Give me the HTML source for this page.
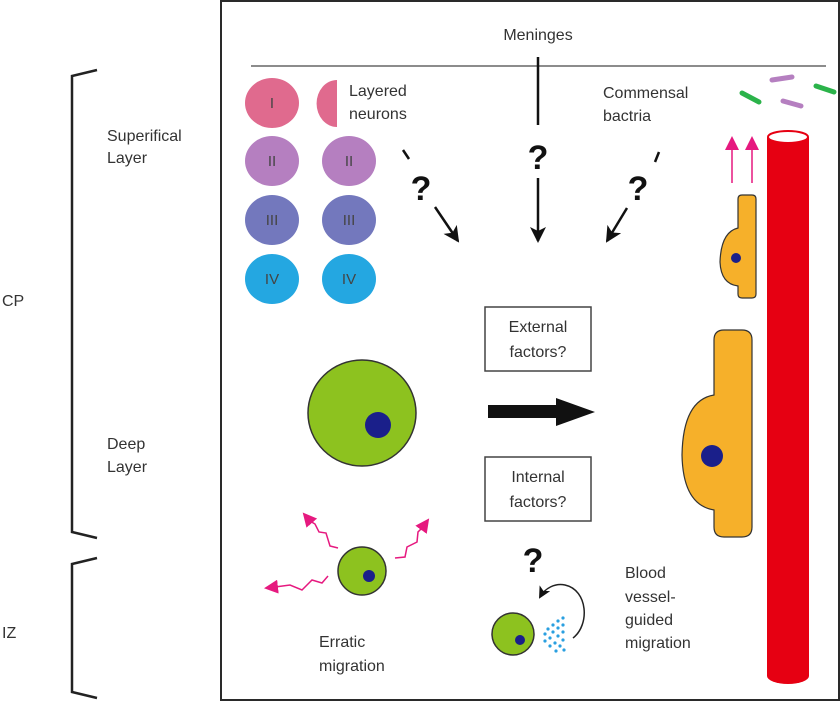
<!DOCTYPE html>
<html><head><meta charset="utf-8"><style>
body{margin:0;background:#fff;}
svg{display:block;font-family:"Liberation Sans",Arial,sans-serif;}
</style></head><body>
<svg width="840" height="703" viewBox="0 0 840 703" xmlns="http://www.w3.org/2000/svg">
<defs>
<marker id="ah" markerWidth="16" markerHeight="16" refX="14" refY="8" orient="auto" markerUnits="userSpaceOnUse"><path d="M0,0 L16,8 L0,16 L4,8 Z" fill="#111"/></marker>
<marker id="ah2" markerWidth="12" markerHeight="12" refX="10" refY="6" orient="auto" markerUnits="userSpaceOnUse"><path d="M0,0 L12,6 L0,12 L3,6 Z" fill="#111"/></marker>
<marker id="am" markerWidth="14" markerHeight="14" refX="12" refY="7" orient="auto" markerUnits="userSpaceOnUse"><path d="M0,0 L14,7 L0,14 Z" fill="#e6197f"/></marker>
</defs>
<rect x="0" y="0" width="840" height="703" fill="#fff"/>
<rect x="221" y="1" width="618" height="699" fill="none" stroke="#2a2a2a" stroke-width="2"/>
<g fill="none" stroke="#222" stroke-width="2.5">
<polyline points="97,70 72,76 72,532 97,538"/>
<polyline points="97,558 72,564 72,692 97,698"/>
</g>
<rect x="485" y="307" width="106" height="64" fill="#fff" stroke="#444" stroke-width="1.5"/>
<rect x="485" y="457" width="106" height="64" fill="#fff" stroke="#444" stroke-width="1.5"/>
<g fill="#333" font-size="16">
<text x="2" y="306">CP</text>
<text x="2" y="638">IZ</text>
<text x="107" y="141">Superifical</text>
<text x="107" y="163">Layer</text>
<text x="107" y="449">Deep</text>
<text x="107" y="472">Layer</text>
<text x="538" y="40" text-anchor="middle">Meninges</text>
<text x="349" y="96">Layered</text>
<text x="349" y="119">neurons</text>
<text x="603" y="98">Commensal</text>
<text x="603" y="121">bactria</text>
<text x="538" y="332" text-anchor="middle">External</text>
<text x="538" y="357" text-anchor="middle">factors?</text>
<text x="538" y="482" text-anchor="middle">Internal</text>
<text x="538" y="507" text-anchor="middle">factors?</text>
<text x="319" y="647">Erratic</text>
<text x="319" y="671">migration</text>
<text x="625" y="578">Blood</text>
<text x="625" y="602">vessel-</text>
<text x="625" y="625">guided</text>
<text x="625" y="648">migration</text>
</g>
<line x1="251" y1="66" x2="826" y2="66" stroke="#666" stroke-width="1.5"/>
<g font-size="15" fill="#444" text-anchor="middle">
<ellipse cx="272" cy="103" rx="27" ry="25" fill="#e06a8e"/>
<path d="M337,80 A20,23 0 0 0 337,127 Z" fill="#e06a8e"/>
<ellipse cx="272" cy="161" rx="27" ry="25" fill="#b57fc0"/>
<ellipse cx="349" cy="161" rx="27" ry="25" fill="#b57fc0"/>
<ellipse cx="272" cy="220" rx="27" ry="25" fill="#7378bd"/>
<ellipse cx="349" cy="220" rx="27" ry="25" fill="#7378bd"/>
<ellipse cx="272" cy="279" rx="27" ry="25" fill="#24a7e1"/>
<ellipse cx="349" cy="279" rx="27" ry="25" fill="#24a7e1"/>
<text x="272" y="108">I</text>
<text x="272" y="166">II</text><text x="349" y="166">II</text>
<text x="272" y="225">III</text><text x="349" y="225">III</text>
<text x="272" y="284">IV</text><text x="349" y="284">IV</text>
</g>
<g stroke="#111" stroke-width="2.5" fill="none">
<line x1="538" y1="57" x2="538" y2="125"/>
<line x1="538" y1="178" x2="538" y2="241" marker-end="url(#ah)"/>
<line x1="435" y1="207" x2="458" y2="241" marker-end="url(#ah)"/>
<line x1="403" y1="150" x2="409" y2="159"/>
<line x1="627" y1="208" x2="607" y2="241" marker-end="url(#ah)"/>
<line x1="659" y1="152" x2="655" y2="162"/>
</g>
<g font-size="34" font-weight="bold" fill="#111" text-anchor="middle">
<text x="538" y="169">?</text>
<text x="421" y="200">?</text>
<text x="638" y="200">?</text>
<text x="533" y="572">?</text>
</g>
<g stroke-width="5" stroke-linecap="round">
<line x1="772" y1="80" x2="792" y2="77" stroke="#b57fc0"/>
<line x1="783" y1="101" x2="801" y2="106" stroke="#b57fc0"/>
<line x1="742" y1="93" x2="759" y2="102" stroke="#2bb34a"/>
<line x1="816" y1="86" x2="834" y2="92" stroke="#2bb34a"/>
</g>
<g stroke="#e6197f" stroke-width="1.5">
<line x1="732" y1="183" x2="732" y2="138" marker-end="url(#am)"/>
<line x1="752" y1="183" x2="752" y2="138" marker-end="url(#am)"/>
</g>
<path d="M767,137 L767,676 A21,8 0 0 0 809,676 L809,137 Z" fill="#e60012"/>
<ellipse cx="788" cy="137" rx="20" ry="6" fill="#fff" stroke="#e60012" stroke-width="2"/>
<path d="M742,195 L752,195 Q756,195 756,199 L756,294 Q756,298 752,298 L742,298 Q738,298 738,294 L738,286 Q721,284 720,262 Q721,232 738,228 L738,199 Q738,195 742,195 Z" fill="#f6b02a" stroke="#333" stroke-width="1.2"/>
<circle cx="736" cy="258" r="5" fill="#1a1f8a"/>
<path d="M488,405 L556,405 L556,398 L595,412 L556,426 L556,418 L488,418 Z" fill="#111"/>
<ellipse cx="362" cy="413" rx="54" ry="53" fill="#8dc21f" stroke="#333" stroke-width="1.5"/>
<circle cx="378" cy="425" r="13" fill="#1a1f8a"/>
<path d="M724,330 L742,330 Q752,330 752,340 L752,527 Q752,537 742,537 L724,537 Q714,537 714,527 L714,510 Q683,505 682,455 Q683,400 714,395 L714,340 Q714,330 724,330 Z" fill="#f6b02a" stroke="#333" stroke-width="1.2"/>
<circle cx="712" cy="456" r="11" fill="#1a1f8a"/>
<g fill="none" stroke="#e6197f" stroke-width="1.5">
<polyline points="338,548 330,546 326,533 319,532 315,524 310,521 304,514" marker-end="url(#am)"/>
<polyline points="395,558 405,557 407,547 417,542 418,532 423,527 428,520" marker-end="url(#am)"/>
<polyline points="328,576 322,583 312,580 302,590 290,585 275,587 266,588" marker-end="url(#am)"/>
</g>
<circle cx="362" cy="571" r="24" fill="#8dc21f" stroke="#333" stroke-width="1.5"/>
<circle cx="369" cy="576" r="6" fill="#1a1f8a"/>
<path d="M573,638 C590,625 588,590 565,585 C555,583 545,588 540,597" fill="none" stroke="#222" stroke-width="1.5" marker-end="url(#ah2)"/>
<circle cx="513" cy="634" r="21" fill="#8dc21f" stroke="#333" stroke-width="1.5"/>
<circle cx="520" cy="640" r="5" fill="#1a1f8a"/>
<g fill="#2a9fe0">
<circle cx="563" cy="618" r="1.6"/><circle cx="558" cy="621" r="1.6"/><circle cx="563" cy="625" r="1.6"/><circle cx="553" cy="625" r="1.6"/>
<circle cx="558" cy="628" r="1.6"/><circle cx="548" cy="629" r="1.6"/><circle cx="563" cy="632" r="1.6"/><circle cx="553" cy="632" r="1.6"/>
<circle cx="545" cy="634" r="1.6"/><circle cx="558" cy="636" r="1.6"/><circle cx="550" cy="638" r="1.6"/><circle cx="563" cy="640" r="1.6"/>
<circle cx="545" cy="641" r="1.6"/><circle cx="555" cy="643" r="1.6"/><circle cx="560" cy="646" r="1.6"/><circle cx="550" cy="646" r="1.6"/>
<circle cx="564" cy="650" r="1.6"/><circle cx="556" cy="651" r="1.6"/>
</g>
</svg>
</body></html>
